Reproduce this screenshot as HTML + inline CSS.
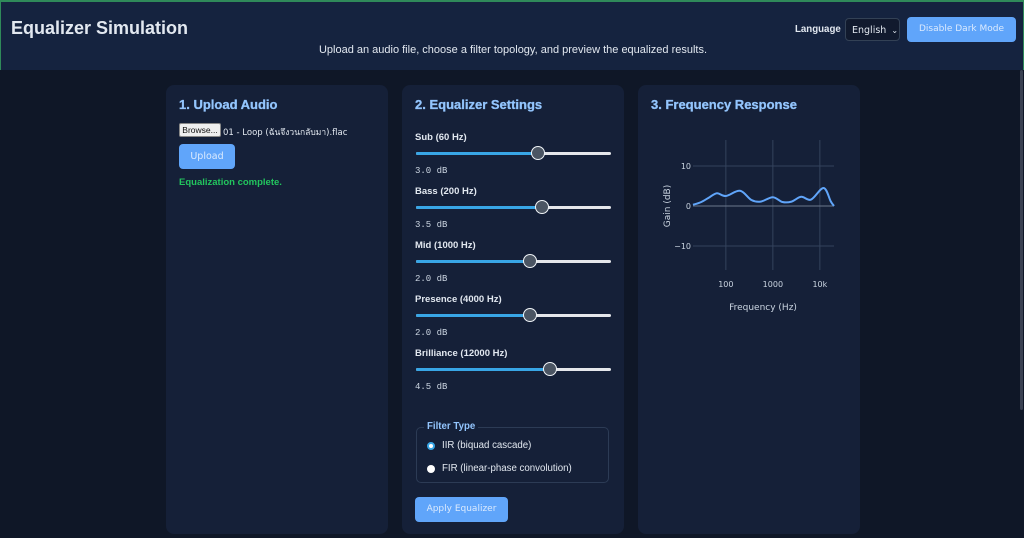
<!DOCTYPE html>
<html><head><meta charset="utf-8">
<style>
*{box-sizing:border-box;margin:0;padding:0}
body{width:1024px;height:538px;overflow:hidden;background:#0f1727;font-family:"Liberation Sans",sans-serif;color:#e2e8f0;position:relative}
.abs{position:absolute;white-space:nowrap}
header{position:absolute;left:0;top:0;width:1024px;height:70px;background:#15233f;border-top:2px solid #2f8a5a;border-left:1px solid #2f8a5a;border-right:1px solid #2f8a5a}
.card{position:absolute;top:85px;height:449px;width:222px;background:#152038;border-radius:8px}
h2{position:absolute;left:13px;top:12px;font-size:13px;color:#93c5fd;font-weight:bold;white-space:nowrap;-webkit-text-stroke:0.3px #93c5fd}
.btn{position:absolute;background:#60a5fa;color:#dbeafe;border-radius:4px;font-size:9.5px;text-align:center;font-family:"DejaVu Sans",sans-serif;white-space:nowrap}
.lbl{position:absolute;left:13px;font-size:9.5px;font-weight:bold;color:#e2e8f0}
.val{position:absolute;left:13px;font-family:"Liberation Mono",monospace;font-size:9px;color:#cbd5e1}
.track{position:absolute;left:14px;width:195px;height:3px;background:#e5e7eb;border-radius:2px}
.fill{position:absolute;left:0;top:0;height:3px;background:#38a6e6;border-radius:2px}
.thumb{position:absolute;top:-6px;width:14px;height:14px;border-radius:50%;background:#4b5563;border:1.5px solid #f1f5f9;margin-left:-7px}
</style></head><body>
<header>
<div class="abs" style="left:10px;top:16px;font-size:18px;font-weight:bold;color:#e2e8f0">Equalizer Simulation</div>
<div class="abs" style="left:0;width:1024px;top:42px;text-align:center;font-size:11px;color:#e2e8f0">Upload an audio file, choose a filter topology, and preview the equalized results.</div>
<div class="abs" style="left:794px;top:22px;font-size:9.7px;font-weight:bold">Language</div>
<div class="abs" style="left:844px;top:16px;width:55px;height:23px;border:1px solid #334155;border-radius:4px;background:#111a2e;font-size:9.5px;padding:6px 0 0 6px;font-family:'DejaVu Sans',sans-serif">English <span style="font-size:8px;margin-left:2px">&#8964;</span></div>
<div class="btn" style="left:906px;top:15px;width:109px;height:25px;line-height:25px;font-size:9px">Disable Dark Mode</div>
</header>

<div class="card" style="left:166px">
<h2>1. Upload Audio</h2>
<div class="abs" style="left:13px;top:38px;width:42px;height:14px;background:#efefef;border:1px solid #888;border-radius:2px;color:#111;font-size:8.5px;text-align:center;line-height:12px">Browse...</div>
<div class="abs" style="left:57px;top:40px;font-size:8.5px;font-family:'DejaVu Sans',sans-serif">01 - Loop (ฉันจึงวนกลับมา).flac</div>
<div class="btn" style="left:13px;top:59px;width:56px;height:25px;line-height:25px">Upload</div>
<div class="abs" style="left:13px;top:92px;font-size:9.5px;font-weight:bold;color:#22c55e">Equalization complete.</div>
</div>

<div class="card" style="left:402px">
<h2>2. Equalizer Settings</h2>
<div id="sliders"></div>
<div class="abs" style="left:14px;top:342px;width:193px;height:56px;border:1px solid #2c3b55;border-radius:5px"></div>
<div class="abs" style="left:22px;top:336px;background:#152038;padding:0 3px;font-size:9.7px;font-weight:bold;color:#93c5fd">Filter Type</div>
<div class="abs" style="left:25px;top:357px;width:8px;height:8px;border-radius:50%;background:#fff;border:2px solid #38a6e6"></div>
<div class="abs" style="left:40px;top:355px;font-size:9.7px">IIR (biquad cascade)</div>
<div class="abs" style="left:25px;top:380px;width:8px;height:8px;border-radius:50%;background:#fff"></div>
<div class="abs" style="left:40px;top:378px;font-size:9.7px">FIR (linear-phase convolution)</div>
<div class="btn" style="left:13px;top:412px;width:93px;height:25px;line-height:25px;font-size:9px">Apply Equalizer</div>
</div>

<div class="card" style="left:638px">
<h2>3. Frequency Response</h2>
</div>
<svg class="abs" style="left:0;top:0" width="1024" height="538" id="chart"></svg>
<div class="abs" style="left:1020px;top:70px;width:3px;height:340px;background:#3a4152;border-radius:2px"></div>

<script>
const bandNames=["Sub (60 Hz)","Bass (200 Hz)","Mid (1000 Hz)","Presence (4000 Hz)","Brilliance (12000 Hz)"];
const bandGains=[3.0,3.5,2.0,2.0,4.5];
const freqs=[20,30,45,65,100,200,350,550,1000,1600,2500,4000,6500,12000,17000,20000];
const gains=[0.3,1.0,2.2,3.2,2.5,3.8,1.5,1.1,2.2,1.0,1.1,2.3,1.6,4.5,1.2,0];
const xTicks=[100,1000,10000];
const xTickLabels=["100","1000","10k"];
const yTicks=[10,0,-10];
const yTickLabels=["10","0","\u221210"];

const sl=document.getElementById('sliders');
bandNames.forEach((n,i)=>{
  const top=47+i*54;
  const l=document.createElement('div');l.className='lbl';l.style.top=top+'px';l.textContent=n;
  
  
  sl.appendChild(l);
  const t=document.createElement('div');t.className='track';t.style.top=(top+20)+'px';
  
  
  const frac=(bandGains[i]+12)/24;
  const f=document.createElement('div');f.className='fill';f.style.width=(frac*195)+'px';
  const th=document.createElement('div');th.className='thumb';th.style.left=(frac*195)+'px';
  
  
  t.appendChild(f);t.appendChild(th);sl.appendChild(t);
  const v=document.createElement('div');v.className='val';v.style.top=(top+34)+'px';v.textContent=bandGains[i].toFixed(1)+' dB';
  
  
  sl.appendChild(v);
});

const NS='http://www.w3.org/2000/svg';
const svg=document.getElementById('chart');
const X0=693,X1=834,Y0=140,Y1=270;
const xs=f=>X0+(Math.log10(f)-Math.log10(20))/(Math.log10(20000)-Math.log10(20))*(X1-X0);
const ys=g=>206-g*4;
function el(tag,attrs,name){const e=document.createElementNS(NS,tag);for(const k in attrs)e.setAttribute(k,attrs[k]);svg.appendChild(e);return e;}
xTicks.forEach((t,i)=>{
  el('line',{x1:xs(t),x2:xs(t),y1:Y0,y2:Y1,stroke:'#34425c','stroke-width':1},'x-gridline');
  const tx=el('text',{x:xs(t),y:287,'text-anchor':'middle','font-size':8,fill:'#cbd5e1','font-family':'DejaVu Sans, sans-serif'},'x-tick-label');tx.textContent=xTickLabels[i];
});
yTicks.forEach((t,i)=>{
  el('line',{x1:X0,x2:X1,y1:ys(t),y2:ys(t),stroke:t===0?'#6b778c':'#34425c','stroke-width':1},'y-gridline');
  const tx=el('text',{x:X0-2,y:ys(t)+3,'text-anchor':'end','font-size':8,fill:'#cbd5e1','font-family':'DejaVu Sans, sans-serif'},'y-tick-label');tx.textContent=yTickLabels[i];
});
const pts=freqs.map((f,i)=>[xs(f),ys(gains[i])]);
let d='M'+pts[0][0]+','+pts[0][1];
for(let i=0;i<pts.length-1;i++){
  const p0=pts[i-1]||pts[i],p1=pts[i],p2=pts[i+1],p3=pts[i+2]||p2;
  d+=` C${p1[0]+(p2[0]-p0[0])/6},${p1[1]+(p2[1]-p0[1])/6} ${p2[0]-(p3[0]-p1[0])/6},${p2[1]-(p3[1]-p1[1])/6} ${p2[0]},${p2[1]}`;
}
el('path',{d:d,fill:'none',stroke:'#60a5fa','stroke-width':2},'response-curve');
const xt=el('text',{x:763,y:310,'text-anchor':'middle','font-size':9,fill:'#cbd5e1','font-family':'DejaVu Sans, sans-serif'},'x-axis-title');xt.textContent='Frequency (Hz)';
const yt=el('text',{x:0,y:0,transform:'translate(670,206) rotate(-90)','text-anchor':'middle','font-size':9,fill:'#cbd5e1','font-family':'DejaVu Sans, sans-serif'},'y-axis-title');yt.textContent='Gain (dB)';
</script>
</body></html>
